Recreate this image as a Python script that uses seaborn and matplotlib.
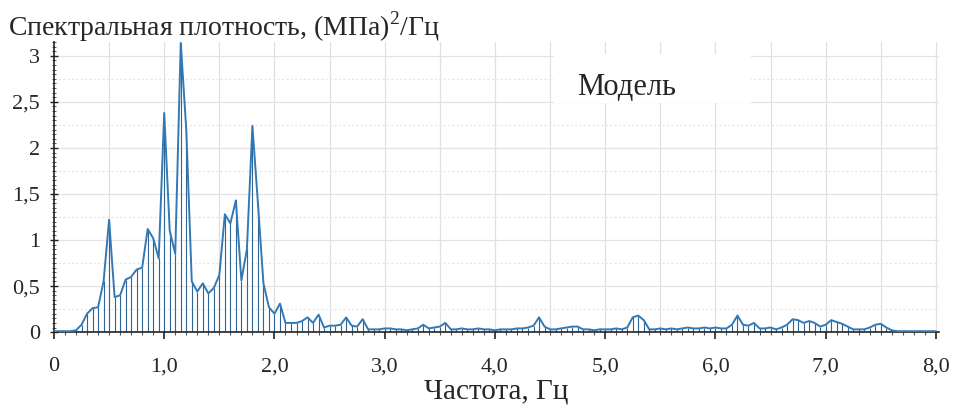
import numpy as np
import pandas as pd
import matplotlib
matplotlib.use("Agg")
import matplotlib.pyplot as plt
import seaborn as sns
from matplotlib.ticker import MultipleLocator, FixedLocator
from matplotlib.patches import Rectangle

# ---- data ----
freq_step = 0.05
density = [
    0.01, 0.01, 0.01, 0.01, 0.02, 0.08, 0.20, 0.26, 0.27, 0.55, 1.22, 0.38, 0.40, 0.57, 0.60, 0.68, 0.70, 1.12, 1.02, 0.80,
    2.38, 1.10, 0.85, 3.14, 2.20, 0.55, 0.44, 0.53, 0.42, 0.48, 0.62, 1.28, 1.18, 1.43, 0.56, 0.90, 2.24, 1.40, 0.53, 0.27,
    0.20, 0.31, 0.10, 0.10, 0.10, 0.12, 0.16, 0.10, 0.19, 0.05, 0.07, 0.07, 0.08, 0.16, 0.07, 0.06, 0.14, 0.03, 0.03, 0.03,
    0.04, 0.04, 0.03, 0.03, 0.02, 0.03, 0.04, 0.08, 0.04, 0.05, 0.06, 0.10, 0.03, 0.03, 0.04, 0.03, 0.03, 0.04, 0.03, 0.03,
    0.02, 0.03, 0.03, 0.03, 0.04, 0.04, 0.05, 0.07, 0.16, 0.06, 0.03, 0.03, 0.04, 0.05, 0.06, 0.06, 0.03, 0.03, 0.02, 0.03,
    0.03, 0.03, 0.04, 0.03, 0.05, 0.16, 0.18, 0.13, 0.03, 0.03, 0.04, 0.03, 0.04, 0.03, 0.04, 0.05, 0.04, 0.04, 0.05, 0.04,
    0.05, 0.04, 0.04, 0.08, 0.18, 0.08, 0.07, 0.10, 0.04, 0.04, 0.05, 0.03, 0.05, 0.08, 0.14, 0.13, 0.10, 0.12, 0.10, 0.06,
    0.08, 0.13, 0.11, 0.09, 0.06, 0.03, 0.03, 0.03, 0.05, 0.08, 0.09, 0.05, 0.02, 0.01, 0.01, 0.01, 0.01, 0.01, 0.01, 0.01,
    0.01,
]
freq = np.round(np.arange(len(density)) * freq_step, 2)

x_ticks = [0, 1, 2, 3, 4, 5, 6, 7, 8]
x_tick_labels = ["0", "1,0", "2,0", "3,0", "4,0", "5,0", "6,0", "7,0", "8,0"]
y_ticks = [0, 0.5, 1, 1.5, 2, 2.5, 3]
y_tick_labels = ["0", "0,5", "1", "1,5", "2", "2,5", "3"]

y_title = "Спектральная плотность, (МПа)$^2$/Гц"
x_title = "Частота, Гц"
series_label = "Модель"

df = pd.DataFrame({"f": freq, "S": density})

# ---- figure ----
sns.set_theme(style="white")
plt.rcParams["font.family"] = ["Liberation Serif", "DejaVu Serif"]
plt.rcParams["mathtext.fontset"] = "custom"
plt.rcParams["mathtext.rm"] = "Liberation Serif"

fig = plt.figure(figsize=(9.57, 4.08), dpi=100)
ax = fig.add_axes([0.0564, 0.186, 0.925, 0.711])

# grid
ax.set_axisbelow(True)
ax.xaxis.set_minor_locator(MultipleLocator(0.1))
ax.yaxis.set_minor_locator(MultipleLocator(0.05))
for gx in np.arange(0.5, 8.01, 0.5):
    ax.axvline(gx, color="#e0e0e0", lw=0.9, zorder=0)
for gy in np.arange(0.25, 3.1, 0.25):
    ls = "-" if abs(gy * 2 - round(gy * 2)) < 1e-6 else (0, (1.5, 2))
    ax.axhline(gy, color="#e3e3e3", lw=0.9, ls=ls, zorder=0)

# stems and line
ax.vlines(df["f"], 0, df["S"], color="#2f6494", lw=0.8, zorder=2)
sns.lineplot(data=df, x="f", y="S", ax=ax, color="#3279b5", lw=1.4, zorder=3)

ax.set_xlim(0, 8.03)
ax.set_ylim(0, 3.15)

ax.xaxis.set_major_locator(FixedLocator(x_ticks))
ax.set_xticklabels(x_tick_labels)
ax.yaxis.set_major_locator(FixedLocator(y_ticks))
ax.set_yticklabels(y_tick_labels)
ax.tick_params(axis="x", which="major", direction="out", length=5, width=1.2,
               color="#222222", labelsize=16, pad=13, bottom=True)
ax.tick_params(axis="x", which="minor", direction="out", length=2.5, width=0.8,
               color="#555555", bottom=True)
ax.tick_params(axis="y", which="major", direction="inout", length=6, width=1.0,
               color="#222222", labelsize=16, pad=7, left=True)
ax.tick_params(axis="y", which="minor", direction="inout", length=3, width=0.7,
               color="#555555", left=True)

for side in ["top", "right"]:
    ax.spines[side].set_visible(False)
for side in ["left", "bottom"]:
    ax.spines[side].set_color("#222222")
    ax.spines[side].set_linewidth(1.2)

ax.set_ylabel("")
ax.set_xlabel(x_title, fontsize=21, labelpad=2)

fig.text(0.008, 0.912, y_title, fontsize=20, ha="left", va="baseline")

# white label box
ax.add_patch(Rectangle((0.565, 0.79), 0.222, 0.17, transform=ax.transAxes,
                       facecolor="white", edgecolor="none", zorder=4))
ax.text(0.647, 0.843, series_label, fontsize=22, ha="center", va="center",
        transform=ax.transAxes, zorder=5)

fig.savefig("out.png", dpi=100)
